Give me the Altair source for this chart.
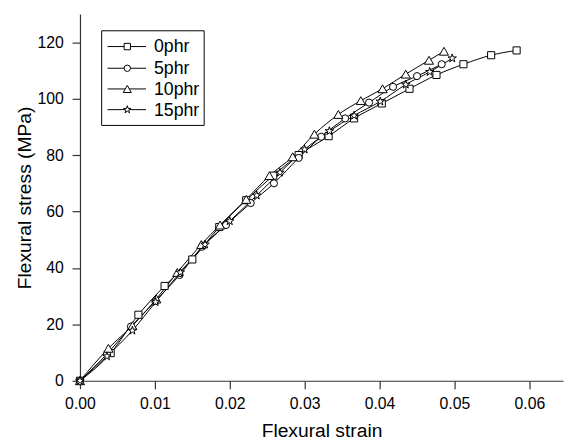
import altair as alt
import pandas as pd

series = ["0phr", "5phr", "10phr", "15phr"]

strain_0 = [0, 0.0041, 0.0078, 0.0113, 0.0150, 0.0186, 0.0222, 0.0258, 0.0292, 0.0332, 0.0366, 0.0403, 0.0440, 0.0476, 0.0512, 0.0549, 0.0583]
stress_0 = [0, 9.8, 23.4, 33.6, 43.0, 54.5, 64.0, 72.7, 80.0, 86.7, 93.0, 98.3, 103.5, 108.4, 112.2, 115.4, 117.1]

strain_5 = [0, 0.0036, 0.0068, 0.0101, 0.0133, 0.0163, 0.0195, 0.0228, 0.0259, 0.0292, 0.0322, 0.0354, 0.0386, 0.0418, 0.0450, 0.0483]
stress_5 = [0, 9.5, 19.2, 28.3, 37.5, 47.5, 55.2, 63.0, 70.0, 79.0, 86.5, 93.0, 98.6, 104.2, 108.0, 112.2]

strain_10 = [0, 0.0038, 0.0070, 0.0102, 0.0130, 0.0162, 0.0187, 0.0222, 0.0253, 0.0284, 0.0313, 0.0345, 0.0375, 0.0404, 0.0435, 0.0466, 0.0486]
stress_10 = [0, 11.5, 19.5, 29.0, 38.4, 48.3, 55.2, 64.3, 72.7, 79.4, 87.4, 94.4, 99.3, 103.5, 108.7, 113.6, 116.8]

strain_15 = [0, 0.0036, 0.0070, 0.0101, 0.0134, 0.0167, 0.0200, 0.0236, 0.0267, 0.0300, 0.0333, 0.0366, 0.0401, 0.0435, 0.0467, 0.0497]
stress_15 = [0, 8.7, 17.8, 27.9, 38.4, 48.3, 56.6, 65.7, 73.8, 82.0, 88.5, 94.0, 99.0, 105.0, 109.5, 114.3]

x_ticks = [0, 0.01, 0.02, 0.03, 0.04, 0.05, 0.06]
y_ticks = [0, 20, 40, 60, 80, 100, 120]

STAR = "M0,-1L0.2245,-0.309L0.951,-0.309L0.363,0.118L0.588,0.809L0,0.382L-0.588,0.809L-0.363,0.118L-0.951,-0.309L-0.2245,-0.309Z"
shapes = ["square", "circle", "triangle-up", STAR]
sizes = [52, 52, 85, 80]

rows = []
for name, xs, ys in zip(series, [strain_0, strain_5, strain_10, strain_15], [stress_0, stress_5, stress_10, stress_15]):
    for a, b in zip(xs, ys):
        rows.append({"series": name, "strain": a, "stress": b})
df = pd.DataFrame(rows)

xenc = alt.X("strain:Q", title="Flexural strain",
             scale=alt.Scale(domain=[0, 0.0645], nice=False, zero=False),
             axis=alt.Axis(values=x_ticks, format=".2f", labelFlush=False))
yenc = alt.Y("stress:Q", title="Flexural stress (MPa)",
             scale=alt.Scale(domain=[0, 130], nice=False),
             axis=alt.Axis(values=y_ticks, labelFlush=False))

layers = []
for name in series:
    d = df[df.series == name]
    layers.append(alt.Chart(d).mark_line(color="black", strokeWidth=1, interpolate="monotone").encode(x=xenc, y=yenc))
for name, shp, sz in zip(series, shapes, sizes):
    d = df[df.series == name]
    layers.append(alt.Chart(d).mark_point(shape=shp, size=sz, filled=False, fill="white", fillOpacity=1,
                                          stroke="black", strokeWidth=1, opacity=1).encode(x=xenc, y=yenc))

# legend box (pixel positions in plot area)
leg_df = pd.DataFrame({"series": series})
box = alt.Chart(leg_df.head(1)).mark_rect(fill="white", stroke="black", strokeWidth=1).encode(
    x=alt.value(22), x2=alt.value(126), y=alt.value(17), y2=alt.value(113))
layers.append(box)
row_y = [33, 55, 76, 97]
for name, shp, sz, ry in zip(series, shapes, sizes, row_y):
    one = alt.Chart(pd.DataFrame({"series": [name]}))
    layers.append(one.mark_rule(color="black", strokeWidth=1).encode(
        x=alt.value(28), x2=alt.value(67), y=alt.value(ry)))
    layers.append(one.mark_point(shape=shp, size=sz * 0.8, filled=False, fill="white", fillOpacity=1,
                                 stroke="black", strokeWidth=1, opacity=1).encode(
        x=alt.value(48), y=alt.value(ry)))
    layers.append(one.mark_text(align="left", baseline="middle", fontSize=18, font="Liberation Sans",
                                color="black").encode(x=alt.value(75), y=alt.value(ry + 1), text="series:N"))

chart = alt.layer(*layers).properties(
    width=490, height=372,
    autosize=alt.AutoSizeParams(type="none"),
    padding={"left": 73, "top": 3, "right": 3, "bottom": 59},
).configure_view(stroke=None).configure_axis(
    grid=False, labelFont="Liberation Sans", titleFont="Liberation Sans",
    labelFontSize=16, titleFontSize=19.5, titleFontWeight="normal",
    labelColor="black", titleColor="black",
    domainColor="#333333", tickColor="#333333", domainWidth=1.2, tickWidth=1.2,
    tickSize=8,
).configure_axisX(labelPadding=7, titlePadding=11).configure_axisY(labelPadding=9, titlePadding=2)

chart.save("out.html", embed_options={"renderer": "svg", "actions": False})
